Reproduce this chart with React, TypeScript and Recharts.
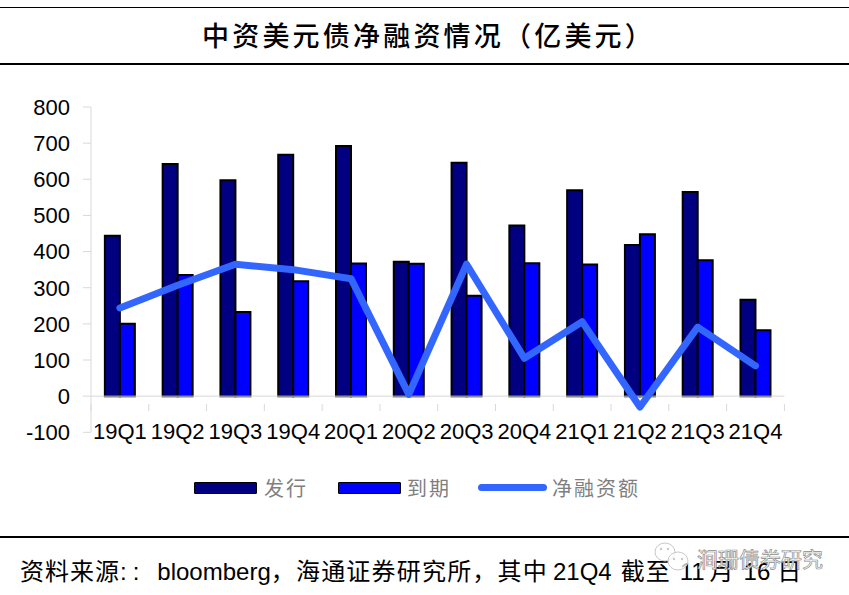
import React from "react";
import { ComposedChart, Bar, Line, XAxis, YAxis, ReferenceLine, Legend } from "recharts";

const quarters = ["19Q1", "19Q2", "19Q3", "19Q4", "20Q1", "20Q2", "20Q3", "20Q4", "21Q1", "21Q2", "21Q3", "21Q4"];
const issued = [444, 642, 597, 668, 692, 372, 646, 472, 570, 418, 565, 267];
const matured = [200, 335, 233, 318, 367, 366, 278, 368, 364, 448, 376, 182];
const netFinancing = [244, 307, 365, 350, 325, 5, 365, 105, 206, -30, 191, 84];
const yTicks = [-100, 0, 100, 200, 300, 400, 500, 600, 700, 800];

const chartData = quarters.map((q, i) => ({
  quarter: q,
  issued: issued[i],
  matured: matured[i],
  net: netFinancing[i],
}));

const LATIN = '"Liberation Sans", Arial, "Noto Sans CJK SC", sans-serif';
const CJK = '"Noto Sans CJK SC", sans-serif';
const GRID = "#d9d9d9";

const BAND = 57.8;
const UNIT_TO_BOTTOM = 36.3; // 轴线到绘图区底部的距离

// x 轴标签在底部，刻度线画在 0 轴上
const QuarterTick = (props: any) => {
  const { x, y, payload, index } = props;
  const axisY = y - UNIT_TO_BOTTOM;
  const edge = x - BAND / 2;
  return (
    <g>
      <line x1={edge} x2={edge} y1={axisY} y2={axisY + 7} stroke={GRID} strokeWidth={1} />
      {index === quarters.length - 1 && (
        <line x1={edge + BAND} x2={edge + BAND} y1={axisY} y2={axisY + 7} stroke={GRID} strokeWidth={1} />
      )}
      <text x={x} y={axisY + 35} textAnchor="middle" fontSize={22} fontFamily={LATIN} fill="#000">
        {payload.value}
      </text>
    </g>
  );
};

const ChartLegend = () => {
  const label = { fontFamily: CJK, fontSize: 20, letterSpacing: 2, color: "#7f7f7f", lineHeight: "24px" };
  const box = { height: 10, border: "1.5px solid #000", width: 61, borderRadius: 1 };
  return (
    <div style={{ position: "relative", height: 24 }}>
      <div style={{ ...box, position: "absolute", left: 0, top: 6, background: "#000080" }} />
      <span style={{ ...label, position: "absolute", left: 70, top: 0 }}>发行</span>
      <div style={{ ...box, position: "absolute", left: 144, top: 6, background: "#0000ff" }} />
      <span style={{ ...label, position: "absolute", left: 213, top: 0 }}>到期</span>
      <div style={{ position: "absolute", left: 284, top: 8, width: 69, height: 7, borderRadius: 4, background: "#3366ff" }} />
      <span style={{ ...label, position: "absolute", left: 358, top: 0 }}>净融资额</span>
    </div>
  );
};

const Rule = ({ top, height }: { top: number; height: number }) => (
  <div style={{ position: "absolute", left: 0, top, width: 849, height, background: "#000" }} />
);

const cjkPart = { fontFamily: CJK, letterSpacing: 1 };

export default function App() {
  return (
    <div style={{ position: "absolute", left: 0, top: 0, width: 849, height: 595, background: "#fff", overflow: "hidden" }}>
      <Rule top={7} height={1} />
      <Rule top={63} height={2} />
      <Rule top={536} height={2} />
      <div
        style={{
          position: "absolute",
          left: 202,
          top: 17,
          fontFamily: CJK,
          fontSize: 27,
          letterSpacing: 3.2,
          fontWeight: 500,
          lineHeight: "36px",
          whiteSpace: "nowrap",
          color: "#000",
        }}
      >
        中资美元债净融资情况（亿美元）
      </div>

      <ComposedChart
        width={849}
        height={595}
        data={chartData}
        margin={{ top: 107, right: 64.6, bottom: 137.7, left: 0 }}
        barGap={0}
        barCategoryGap="24%"
        style={{ position: "absolute", left: 0, top: 0 }}
      >
        <XAxis
          dataKey="quarter"
          axisLine={false}
          tickLine={false}
          interval={0}
          height={1}
          tick={QuarterTick}
        />
        <YAxis
          width={91}
          domain={[-100, 800]}
          ticks={yTicks}
          interval={0}
          axisLine={{ stroke: GRID }}
          tickLine={{ stroke: GRID }}
          tickSize={8}
          tickMargin={13}
          tick={{ fontSize: 22, fontFamily: LATIN, fill: "#000" }}
        />
        <Bar dataKey="issued" fill="#000080" stroke="#000" strokeWidth={2} isAnimationActive={false} />
        <Bar dataKey="matured" fill="#0000ff" stroke="#000" strokeWidth={2} isAnimationActive={false} />
        <ReferenceLine y={0} stroke={GRID} />
        <Line
          dataKey="net"
          stroke="#3366ff"
          strokeWidth={7}
          strokeLinecap="round"
          strokeLinejoin="round"
          dot={false}
          isAnimationActive={false}
        />
        <Legend
          content={ChartLegend}
          wrapperStyle={{ position: "absolute", left: 194, top: 476, width: 460, height: 24, bottom: "auto" }}
        />
      </ComposedChart>

      <div
        style={{
          position: "absolute",
          left: 20,
          top: 555,
          fontFamily: LATIN,
          fontSize: 24,
          lineHeight: "30px",
          whiteSpace: "nowrap",
          color: "#000",
        }}
      >
        <span style={cjkPart}>资料来源</span>
        <span style={{ letterSpacing: 6, marginRight: 12 }}>::</span>
        <span>bloomberg</span>
        <span style={{ ...cjkPart, letterSpacing: 1.2 }}>，海通证券研究所，其中</span>
        <span style={{ marginLeft: 5 }}>21Q4</span>
        <span style={{ ...cjkPart, marginLeft: 9 }}>截至</span>
        <span style={{ marginLeft: 9 }}>11</span>
        <span style={{ ...cjkPart, marginLeft: 5 }}>月</span>
        <span style={{ marginLeft: 9 }}>16</span>
        <span style={{ ...cjkPart, marginLeft: 7 }}>日</span>
      </div>

      <svg width={40} height={34} style={{ position: "absolute", left: 653, top: 540 }}>
        <ellipse cx={12} cy={12} rx={10} ry={9} fill="#fff" fillOpacity={0.7} stroke="#c8c8c8" />
        <ellipse cx={25} cy={21} rx={10} ry={9} fill="#fff" fillOpacity={0.7} stroke="#c8c8c8" />
        <circle cx={8} cy={9} r={1.2} fill="#c8c8c8" />
        <circle cx={15} cy={9} r={1.2} fill="#c8c8c8" />
        <circle cx={21} cy={19} r={1.2} fill="#c8c8c8" />
        <circle cx={29} cy={19} r={1.2} fill="#c8c8c8" />
      </svg>
      <div
        style={{
          position: "absolute",
          left: 697,
          top: 544,
          fontFamily: CJK,
          fontSize: 21,
          lineHeight: "28px",
          whiteSpace: "nowrap",
          color: "#fff",
          WebkitTextStroke: "0.7px #8c8c8c",
        }}
      >
        涧珊债券研究
      </div>
    </div>
  );
}
